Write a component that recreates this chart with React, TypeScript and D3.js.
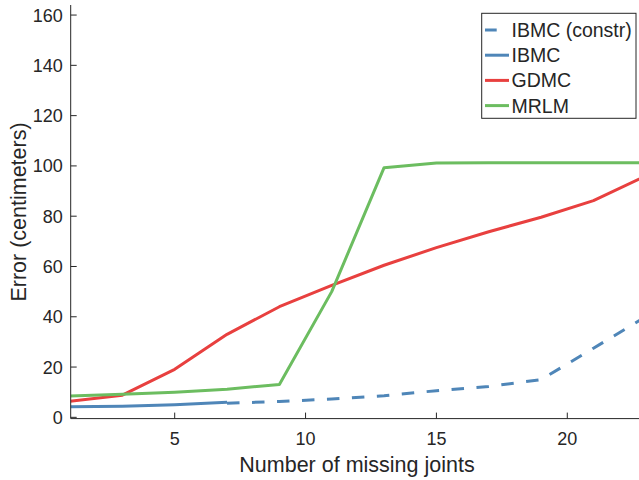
import * as d3 from 'd3';
import React, { useRef, useEffect } from 'react';

// number of missing joints (x values)
const joints = [1, 3, 5, 7, 9, 11, 13, 15, 17, 19, 21, 23];

// error values in centimeters, one array per method
const ibmcJoints = [1, 3, 5, 7];
const ibmc = [4.2, 4.4, 5.0, 6.0];
const ibmcConstrJoints = [7, 9, 11, 13, 15, 17, 19, 21, 23];
const ibmcConstr = [5.6, 6.3, 7.3, 8.6, 10.6, 12.3, 15.0, 27.5, 40.0];
const gdmc = [6.4, 8.8, 19.1, 33.0, 44.0, 52.5, 60.5, 67.5, 73.8, 79.6, 86.2, 96.0];
const mrlm = [8.5, 9.2, 10.0, 11.2, 13.1, 50.0, 99.3, 101.2, 101.3, 101.3, 101.3, 101.3];

const xTicks = [5, 10, 15, 20];
const yTicks = [0, 20, 40, 60, 80, 100, 120, 140, 160];

const legendLabels = ['IBMC (constr)', 'IBMC', 'GDMC', 'MRLM'];

const App = () => {
    const svgRef = useRef(null);

    useEffect(() => {
        const width = 639;
        const height = 480;
        const left = 70.7;
        const top = 5;
        const bottom = 418.6;
        const ink = '#262626';
        const font = '"Liberation Sans", Arial, sans-serif';
        const blue = '#4f86b8';
        const red = '#e8403f';
        const green = '#6cbd60';

        const svg = d3.select(svgRef.current);
        svg.selectAll('*').remove();

        const x = d3.scaleLinear().domain([1, 23]).range([70, 645.8]);
        const y = d3.scaleLinear().domain([-0.5, 164]).range([bottom, top]);

        svg.append('defs').append('clipPath').attr('id', 'plotclip')
            .append('rect')
            .attr('x', left).attr('y', top)
            .attr('width', width - left).attr('height', bottom - top);

        const line = d3.line<[number, number]>()
            .x((d) => x(d[0]))
            .y((d) => y(d[1]));

        const plot = svg.append('g').attr('clip-path', 'url(#plotclip)');

        const series = [
            { xs: ibmcConstrJoints, ys: ibmcConstr, color: blue, dash: '12.5,12.5' },
            { xs: ibmcJoints, ys: ibmc, color: blue, dash: null },
            { xs: joints, ys: gdmc, color: red, dash: null },
            { xs: joints, ys: mrlm, color: green, dash: null },
        ];

        series.forEach((s) => {
            plot.append('path')
                .attr('d', line(s.xs.map((v, i) => [v, s.ys[i]] as [number, number])))
                .attr('fill', 'none')
                .attr('stroke', s.color)
                .attr('stroke-width', 3)
                .attr('stroke-dasharray', s.dash)
                .attr('stroke-linejoin', 'round');
        });

        // axes, MATLAB style with inward ticks
        const axes = svg.append('g').attr('stroke', ink).attr('stroke-width', 1);
        axes.append('line')
            .attr('x1', left).attr('x2', left)
            .attr('y1', top).attr('y2', bottom);
        axes.append('line')
            .attr('x1', left).attr('x2', width)
            .attr('y1', bottom).attr('y2', bottom);

        yTicks.forEach((t) => {
            axes.append('line')
                .attr('x1', left).attr('x2', left + 6)
                .attr('y1', y(t)).attr('y2', y(t));
            svg.append('text')
                .attr('x', left - 8).attr('y', y(t))
                .attr('dy', '0.36em')
                .attr('text-anchor', 'end')
                .attr('font-family', font).attr('font-size', 18)
                .attr('fill', ink)
                .text(t);
        });

        xTicks.forEach((t) => {
            axes.append('line')
                .attr('x1', x(t)).attr('x2', x(t))
                .attr('y1', bottom).attr('y2', bottom - 6);
            svg.append('text')
                .attr('x', x(t)).attr('y', 445)
                .attr('text-anchor', 'middle')
                .attr('font-family', font).attr('font-size', 18)
                .attr('fill', ink)
                .text(t);
        });

        svg.append('text')
            .attr('x', 357).attr('y', 472)
            .attr('text-anchor', 'middle')
            .attr('font-family', font).attr('font-size', 21.5)
            .attr('fill', ink)
            .text('Number of missing joints');

        svg.append('text')
            .attr('transform', 'translate(26, 212) rotate(-90)')
            .attr('text-anchor', 'middle')
            .attr('font-family', font).attr('font-size', 21.5)
            .attr('fill', ink)
            .text('Error (centimeters)');

        // legend
        const legend = svg.append('g');
        legend.append('rect')
            .attr('x', 481.7).attr('y', 13.3)
            .attr('width', 154.3).attr('height', 105)
            .attr('fill', 'white')
            .attr('stroke', ink).attr('stroke-width', 1);

        series.forEach((s, i) => {
            const cy = 30 + i * 25.2;
            legend.append('line')
                .attr('x1', 485).attr('x2', s.dash ? 496.7 : 509)
                .attr('y1', cy).attr('y2', cy)
                .attr('stroke', s.color)
                .attr('stroke-width', 3);
            legend.append('text')
                .attr('x', 511.5).attr('y', cy)
                .attr('dy', '0.36em')
                .attr('font-family', font).attr('font-size', 19.5)
                .attr('fill', ink)
                .text(legendLabels[i]);
        });
    }, []);

    return (
        <svg
            ref={svgRef}
            width={639}
            height={480}
            style={{ position: 'absolute', left: 0, top: 0, background: 'white' }}
        />
    );
};

export default App;
